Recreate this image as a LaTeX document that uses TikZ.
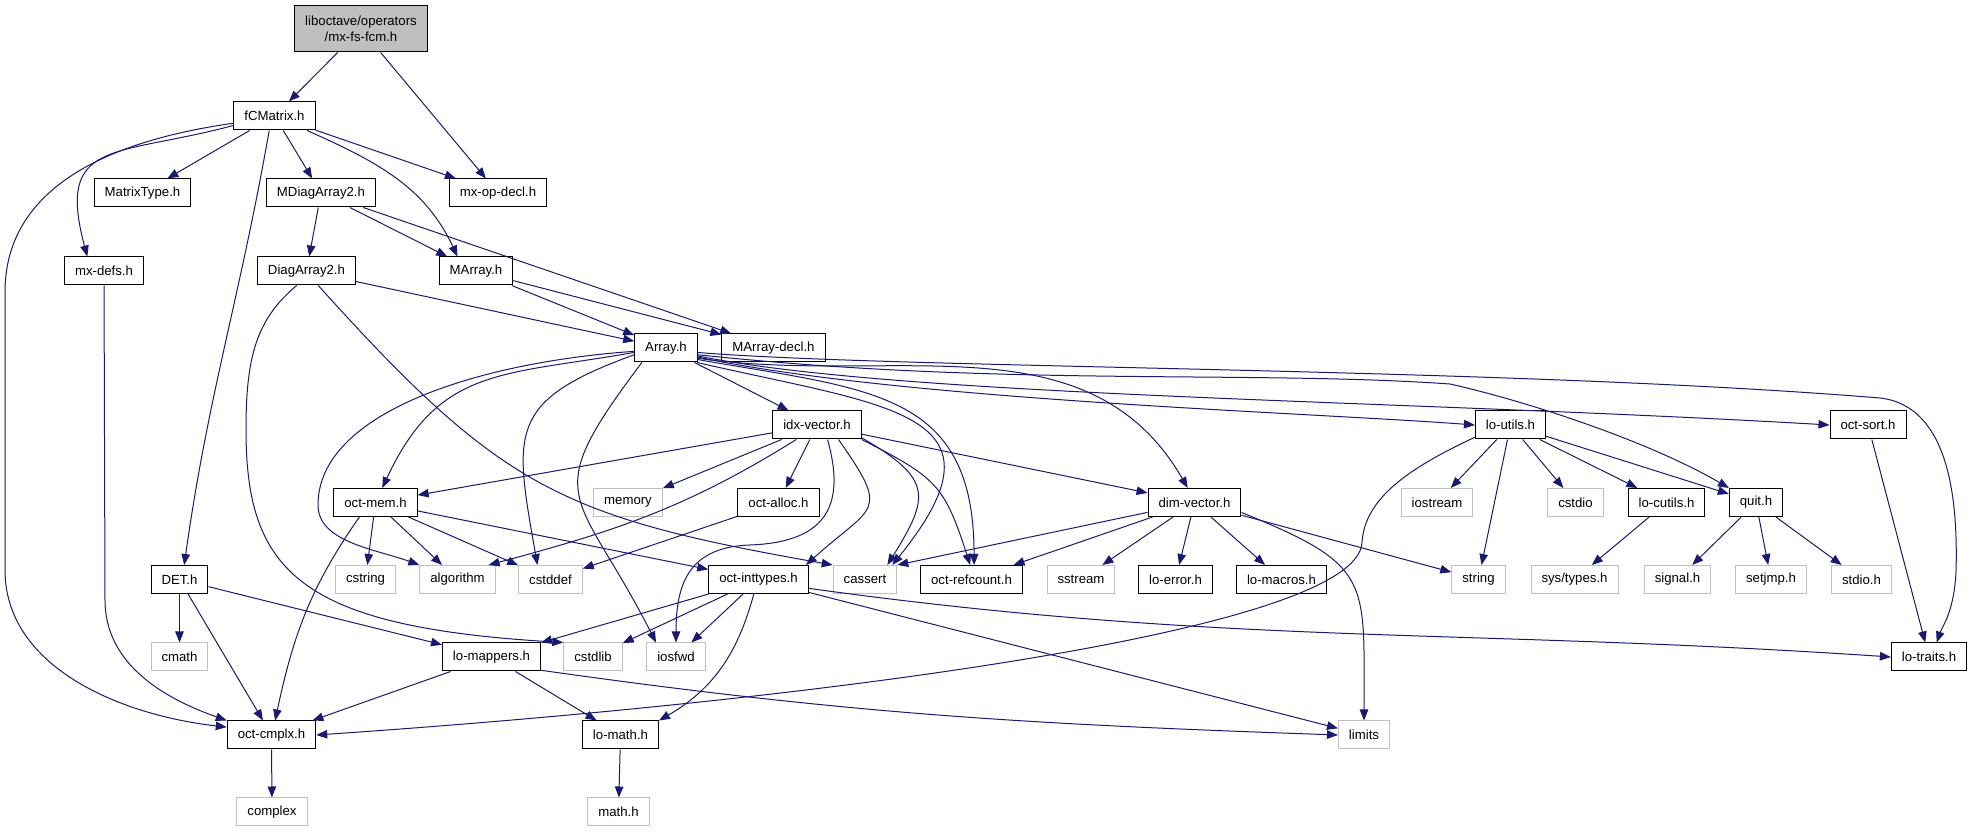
\documentclass[tikz,border=0pt]{standalone}
\usepackage{fontspec}
\setmainfont{Liberation Sans}
\usetikzlibrary{arrows.meta}
\definecolor{edgeblue}{HTML}{191970}
\definecolor{sysgray}{HTML}{BFBFBF}

\begin{document}
\begin{tikzpicture}[x=1pt,y=1pt,
  hdr/.style={draw=black,line width=1pt,fill=white,minimum height=28pt,inner xsep=10.5pt,inner ysep=0pt,font=\fontsize{13.2}{15.5}\selectfont},
  sys/.style={hdr,draw=sysgray},
  dep/.style={draw=edgeblue,line width=1pt,-{Triangle[length=11pt,width=8.5pt]}}]
  \useasboundingbox (0,0) rectangle (1972,832);

  \node[hdr,fill=sysgray,minimum height=46pt,align=center] (top) at (361,803) {liboctave/operators\\/mx-fs-fcm.h};

  \node[hdr] (fcm) at (274.5,716) {fCMatrix.h};

  \node[hdr] (mtype) at (142.5,639) {MatrixType.h};
  \node[hdr] (mdiag) at (321,639) {MDiagArray2.h};
  \node[hdr] (mxop) at (498,639) {mx-op-decl.h};

  \node[hdr] (mxdefs) at (104,561) {mx-defs.h};
  \node[hdr] (diag) at (306.5,561) {DiagArray2.h};
  \node[hdr] (marr) at (476,561) {MArray.h};

  \node[hdr] (arr) at (666,484) {Array.h};
  \node[hdr] (mdecl) at (773.5,484) {MArray-decl.h};

  \node[hdr] (idx) at (817,407) {idx-vector.h};
  \node[hdr] (lutil) at (1510.5,407) {lo-utils.h};
  \node[hdr] (osort) at (1868,407) {oct-sort.h};

  \node[hdr] (omem) at (375.5,329.5) {oct-mem.h};
  \node[sys] (memory) at (628,329.5) {memory};
  \node[hdr] (oalloc) at (778.5,329.5) {oct-alloc.h};
  \node[hdr] (dimv) at (1194.5,329.5) {dim-vector.h};
  \node[sys] (iostream) at (1437,329.5) {iostream};
  \node[sys] (cstdio) at (1575.5,329.5) {cstdio};
  \node[hdr] (lcutil) at (1666.5,329.5) {lo-cutils.h};
  \node[hdr] (quit) at (1756,329.5) {quit.h};

  \node[hdr] (det) at (179.5,252.5) {DET.h};
  \node[sys] (cstring) at (365.5,252.5) {cstring};
  \node[sys] (algo) at (457.5,252.5) {algorithm};
  \node[sys] (cstddef) at (550.5,252.5) {cstddef};
  \node[hdr] (oint) at (758.5,252.5) {oct-inttypes.h};
  \node[sys] (cassert) at (865,252.5) {cassert};
  \node[hdr] (oref) at (971.5,252.5) {oct-refcount.h};
  \node[sys] (sstream) at (1081,252.5) {sstream};
  \node[hdr] (lerr) at (1175.5,252.5) {lo-error.h};
  \node[hdr] (lmac) at (1281.5,252.5) {lo-macros.h};
  \node[sys] (string) at (1478.5,252.5) {string};
  \node[sys] (systypes) at (1574.5,252.5) {sys/types.h};
  \node[sys] (signal) at (1677.5,252.5) {signal.h};
  \node[sys] (setjmp) at (1771,252.5) {setjmp.h};
  \node[sys] (stdioh) at (1861.5,252.5) {stdio.h};

  \node[sys] (cmath) at (179.5,175) {cmath};
  \node[hdr] (lmap) at (491.5,175) {lo-mappers.h};
  \node[sys] (cstdlib) at (593,175) {cstdlib};
  \node[sys] (iosfwd) at (676,175) {iosfwd};
  \node[hdr] (ltraits) at (1929,175) {lo-traits.h};

  \node[hdr] (ocmplx) at (271.5,97) {oct-cmplx.h};
  \node[hdr] (lmath) at (620.5,97) {lo-math.h};
  \node[sys] (limits) at (1364,97) {limits};

  \node[sys] (complex) at (272,20) {complex};
  \node[sys] (mathh) at (618.5,20) {math.h};

  \draw[dep] (top) -- (fcm);
  \draw[dep] (top) -- (mxop);

  \draw[dep] (fcm) -- (mtype);
  \draw[dep] (fcm) -- (mdiag);
  \draw[dep] (fcm) -- (mxop);
  \draw[dep] (fcm.-24) to[out=-24,in=115] (marr.142);
  \draw[dep] (fcm.193) to[out=195,in=105,looseness=1.6] (mxdefs.139);
  \draw[dep] (fcm.-110) to[out=-100,in=82] (det.72);
  \draw[dep] (fcm.190) .. controls (100,690) and (5,640) .. (5,540) -- (5,262) .. controls (5,165) and (120,117) .. (ocmplx.170);

  \draw[dep] (mdiag) -- (diag);
  \draw[dep] (mdiag) -- (marr);
  \draw[dep] (mdiag) -- (mdecl);

  \draw[dep] (diag) -- (arr);
  \draw[dep] (diag.-124) .. controls (255,512) and (246,472) .. (246,402) .. controls (246,260) and (300,205) .. (cstdlib.north west);
  \draw[dep] (diag.-51) to[out=-48,in=170,looseness=1.2] (cassert.north west);

  \draw[dep] (marr) -- (arr);
  \draw[dep] (marr) -- (mdecl);

  \draw[dep] (mxdefs) -- (105,232) .. controls (105,170) and (160,135) .. (ocmplx.north west);

  \draw[dep] (det) -- (cmath);
  \draw[dep] (det) -- (ocmplx);
  \draw[dep] (det) -- (lmap);

  \draw[dep] (arr) -- (idx);
  \draw[dep] (arr.188) to[out=190,in=65,looseness=1.2] (omem.65);
  \draw[dep] (arr.186) .. controls (480,470) and (318,420) .. (318,327) .. controls (318,290) and (375,283) .. (algo.north west);
  \draw[dep] (arr.192) to[out=200,in=100,looseness=1.5] (cstddef.132);
  \draw[dep] (arr.-149) to[out=233,in=117,looseness=1.6] (iosfwd.144);
  \draw[dep] (arr.-25) to[out=-13,in=51,looseness=1.8] (cassert.28);
  \draw[dep] (arr.-20) to[out=-10,in=90,looseness=1.3] (oref.80);
  \draw[dep] (arr.-18) to[out=-8,in=120] (dimv.115);
  \draw[dep] (arr.-16) .. controls (900,432) and (1300,420) .. (lutil.west);
  \draw[dep] (arr.-14) .. controls (900,435) and (1400,432) .. (osort.west);
  \draw[dep] (arr.-12) .. controls (1000,445) and (1250,462) .. (1450,448) .. controls (1530,430) and (1650,390) .. (quit.north west);
  \draw[dep] (arr.-8) .. controls (900,463) and (1500,465) .. (1880,434) .. controls (1950,426) and (1958,330) .. (1956,260) .. controls (1954,220) and (1942,205) .. (ltraits.62);

  \draw[dep] (idx) -- (omem);
  \draw[dep] (idx) -- (memory);
  \draw[dep] (idx.215) to[out=212,in=15] (algo.25);
  \draw[dep] (idx) -- (oalloc);
  \draw[dep] (idx.-34) to[out=-55,in=42,looseness=1.8] (oint.17);
  \draw[dep] (idx.-54) .. controls (845,330) and (830,290) .. (750,287) .. controls (690,285) and (676,250) .. (iosfwd.north);
  \draw[dep] (idx.-16) to[out=-30,in=58,looseness=1.6] (cassert.33);
  \draw[dep] (idx.-18) to[out=-27,in=108,looseness=1.3] (oref.95);
  \draw[dep] (idx) -- (dimv);

  \draw[dep] (oalloc) -- (cstddef);

  \draw[dep] (omem) -- (cstring);
  \draw[dep] (omem) -- (algo);
  \draw[dep] (omem) -- (cstddef);
  \draw[dep] (omem) -- (oint);
  \draw[dep] (omem.-138) to[out=235,in=78] (ocmplx.76);

  \draw[dep] (oint) -- (lmap);
  \draw[dep] (oint) -- (cstdlib);
  \draw[dep] (oint) -- (iosfwd);
  \draw[dep] (oint.-108) to[out=-105,in=30] (lmath.north east);
  \draw[dep] (oint) -- (limits);
  \draw[dep] (oint.-10) .. controls (1225,186) and (1461,204) .. (ltraits.west);

  \draw[dep] (lmap) -- (ocmplx);
  \draw[dep] (lmap) -- (lmath);
  \draw[dep] (lmap.-15) .. controls (850,118) and (1024,108) .. (limits.west);

  \draw[dep] (ocmplx) -- (complex);
  \draw[dep] (lmath) -- (mathh);

  \draw[dep] (dimv) -- (cassert.north east);
  \draw[dep] (dimv) -- (oref);
  \draw[dep] (dimv) -- (sstream);
  \draw[dep] (dimv) -- (lerr);
  \draw[dep] (dimv) -- (lmac);
  \draw[dep] (dimv) -- (string);
  \draw[dep] (dimv.-12) to[out=-22,in=90,looseness=1.5] (limits.north);

  \draw[dep] (lutil) -- (iostream);
  \draw[dep] (lutil) -- (string);
  \draw[dep] (lutil) -- (cstdio);
  \draw[dep] (lutil) -- (lcutil);
  \draw[dep] (lutil) -- (quit);
  \draw[dep] (lutil.199) .. controls (1400,360) and (1365,330) .. (1362,290) .. controls (1360,200) and (800,130) .. (ocmplx.east);

  \draw[dep] (lcutil) -- (systypes);
  \draw[dep] (quit) -- (signal);
  \draw[dep] (quit) -- (setjmp);
  \draw[dep] (quit) -- (stdioh);
  \draw[dep] (osort) -- (ltraits);
\end{tikzpicture}
\end{document}
